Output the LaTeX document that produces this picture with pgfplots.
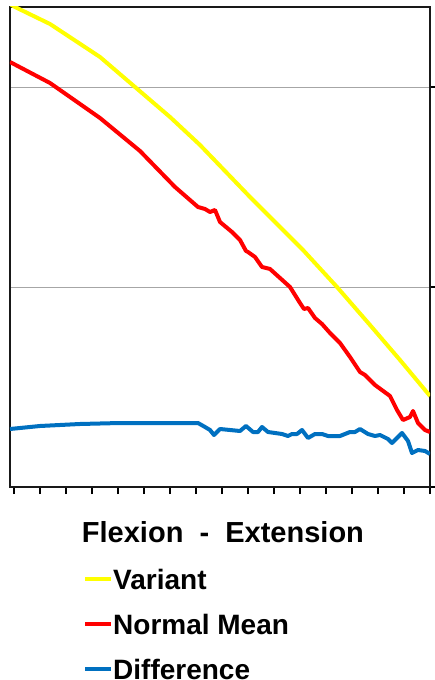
\documentclass[border=0pt]{standalone}
\usepackage{pgfplots}
\pgfplotsset{compat=1.18}
\usepackage{fontspec}
\setmainfont{Liberation Sans}
\definecolor{cyel}{HTML}{FFFF00}
\definecolor{cred}{HTML}{FF0000}
\definecolor{cblue}{HTML}{0070C0}
\begin{document}
\begin{tikzpicture}
\path[use as bounding box] (-10pt,-193pt) rectangle (424pt,487pt);
\begin{axis}[
  at={(0pt,0pt)}, anchor=south west,
  scale only axis, width=420pt, height=480pt,
  xmin=10, xmax=430, ymin=0, ymax=480,
  xtick={14,40,...,430}, xticklabels={},
  ytick={0,200,400}, yticklabels={},
  ymajorgrids, grid style={gray!70, line width=0.6pt},
  axis line style={line width=1.3pt, black!90},
  tick style={line width=1.3pt, black},
  xtick pos=bottom, ytick pos=right, tick align=outside,
  major tick length=7pt,
  xlabel={\bfseries Flexion\ \ -\ \ Extension},
  xlabel style={font=\fontsize{29}{34}\selectfont, at={(axis description cs:0.507,-0.1146)}, anchor=base, inner sep=0pt},
  legend style={at={(axis description cs:0.1738,-0.169)}, anchor=north west, draw=none, fill=none, inner sep=0pt,
    font=\bfseries\fontsize{28}{34}\selectfont, row sep=18pt,
    nodes={inner sep=0pt, text height=21pt, text depth=6pt}},
  legend cell align=left,
  legend image code/.code={\draw[line width=4pt] (0pt,3pt) -- (26pt,3pt);},
  legend style={/tikz/every even column/.append style={column sep=3pt}},
]
\addplot[cyel, line width=4pt] coordinates {(10,483)(15,480)(50,463)(100,430)(135,400)(170,370)(200,342)(250,290)(303,237)(337,200)(370,162)(400,127)(430,91)};
\addlegendentry{Variant}
\addplot[cred, line width=4pt, line join=round] coordinates {(10,425)(50,404)(100,369)(140,336)(175,300)(198,280)(205,278)(210,275)(215,277)(220,265)(232,255)(240,247)(246,236)(248,235)(255,230)(262,220)(270,218)(280,209)(290,200)(295,192)(300,184)(304,178)(308,179)(315,169)(322,163)(330,154)(340,144)(350,130)(360,115)(365,112)(375,102)(390,91)(397,77)(403,67)(410,70)(413,76)(418,64)(425,57)(430,55)};
\addlegendentry{Normal Mean}
\addplot[cblue, line width=4pt, line join=round] coordinates {(10,58)(40,61)(80,63)(120,64)(170,64)(198,64)(205,60)(210,57)(214,52)(220,58)(240,56)(246,61)(253,55)(258,55)(262,60)(268,55)(282,53)(288,51)(292,53)(297,53)(302,57)(308,49)(315,53)(322,53)(328,51)(340,51)(350,55)(355,55)(360,58)(368,53)(375,51)(380,52)(388,48)(392,44)(397,49)(402,54)(408,46)(412,34)(418,37)(425,36)(430,33)};
\addlegendentry{Difference}
\end{axis}
\end{tikzpicture}
\end{document}
